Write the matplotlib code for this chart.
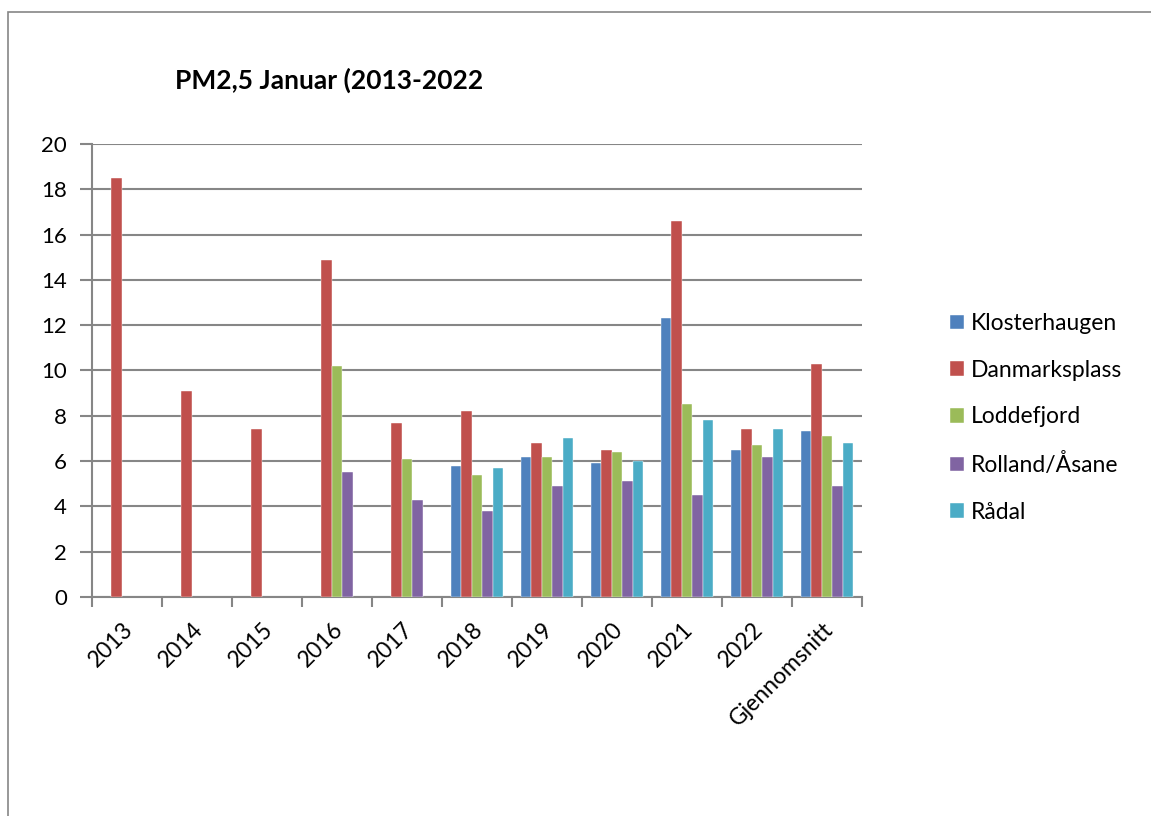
import numpy as np
import matplotlib.pyplot as plt
from matplotlib.patches import Rectangle

plt.rcParams['font.family'] = ['Lato', 'DejaVu Sans']

categories = ["2013", "2014", "2015", "2016", "2017", "2018", "2019",
              "2020", "2021", "2022", "Gjennomsnitt"]

nan = np.nan
klosterhaugen = [nan, nan, nan, nan, nan, 5.8, 6.2, 5.9, 12.3, 6.5, 7.35]
danmarksplass = [18.5, 9.1, 7.4, 14.9, 7.7, 8.2, 6.8, 6.5, 16.6, 7.4, 10.3]
loddefjord = [nan, nan, nan, 10.2, 6.1, 5.4, 6.2, 6.4, 8.5, 6.7, 7.1]
rolland_asane = [nan, nan, nan, 5.5, 4.3, 3.8, 4.9, 5.1, 4.5, 6.2, 4.9]
radal = [nan, nan, nan, nan, nan, 5.7, 7.0, 6.0, 7.8, 7.4, 6.8]

series = [
    ("Klosterhaugen", klosterhaugen, "#4F81BD"),
    ("Danmarksplass", danmarksplass, "#C0504D"),
    ("Loddefjord", loddefjord, "#9BBB59"),
    ("Rolland/Åsane", rolland_asane, "#8064A2"),
    ("Rådal", radal, "#4BACC6"),
]

fig = plt.figure(figsize=(11.51, 8.16), dpi=100)
# outer chart border (only top and left are visible in the source)
fig.patches.append(Rectangle((8 / 1151, -0.1), 1.2, (816 - 12) / 816 + 0.1,
                             transform=fig.transFigure, fill=False,
                             edgecolor="#868686", linewidth=1.2))

ax = fig.add_axes([92 / 1151, 1 - 597 / 816, (862 - 92) / 1151, (597 - 144) / 816])

x = np.arange(len(categories))
w = 0.15
for i, (name, vals, col) in enumerate(series):
    ax.bar(x + (i - 2) * w, vals, width=w, color=col, label=name,
           edgecolor="white", linewidth=0.3, zorder=3)

ax.set_xlim(-0.5, len(categories) - 0.5)
ax.set_ylim(0, 20)
ax.set_yticks(range(0, 21, 2))
ax.yaxis.grid(True, color="#868686", linewidth=1.5, zorder=0)
ax.set_axisbelow(True)

for s in ["top", "right"]:
    ax.spines[s].set_visible(False)
for s in ["left", "bottom"]:
    ax.spines[s].set_color("#868686")
    ax.spines[s].set_linewidth(1.5)

ax.set_xticks(np.arange(len(categories) + 1) - 0.5, minor=False)
ax.set_xticklabels([])
ax.tick_params(axis="x", which="major", length=7, width=1.5, color="#868686")
ax.tick_params(axis="y", length=9, width=1.5, color="#868686", labelsize=16, pad=9)

for xi, lab in zip(x, categories):
    ax.annotate(lab, xy=(xi, 0), xycoords=("data", "axes fraction"),
                xytext=(2, -21), textcoords="offset points",
                rotation=45, rotation_mode="anchor", ha="right", va="center",
                fontsize=16.5)

ax.legend(loc="upper left", bbox_to_anchor=(1.103, 0.647), frameon=False,
          fontsize=16.5, handlelength=0.6, handleheight=0.6, handletextpad=0.3,
          labelspacing=1.12, borderaxespad=0)

fig.text(175 / 1151, 1 - 80 / 816, "PM2,5 Januar (2013-2022", fontsize=19,
         fontweight="bold", ha="left", va="center")

fig.savefig("out.png", dpi=100)
